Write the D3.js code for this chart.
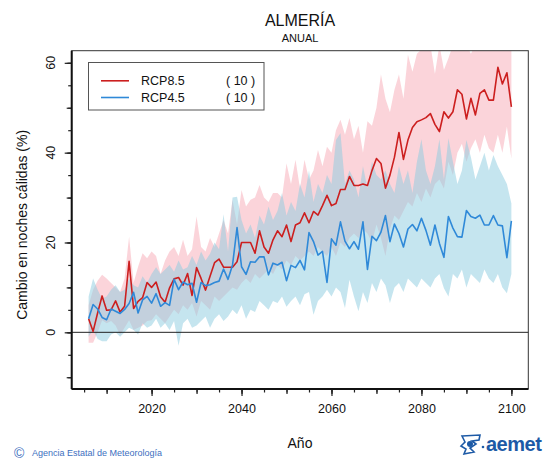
<!DOCTYPE html>
<html>
<head>
<meta charset="utf-8">
<script src="https://cdn.jsdelivr.net/npm/d3@7"></script>
<style>
  body { margin: 0; background: #fff; }
  svg { display: block; font-family: "Liberation Sans", Arial, sans-serif; }
</style>
</head>
<body>
<svg id="chart" width="550" height="462"></svg>
<script>
// years of the projection
const years = d3.range(2006, 2101);

// ensemble means
const rcp85 = [
  3.0, 0.2, 4.3, 8.1, 4.9, 5.0, 7.0, 4.5, 5.8, 15.8,
  5.3, 6.9, 7.7, 11.1, 10.0, 11.2, 7.9, 6.7, 9.9, 11.9,
  12.2, 10.5, 13.1, 8.2, 14.4, 12.0, 9.4, 12.5, 15.5, 16.3,
  14.5, 14.5, 14.5, 15.7, 20.0, 20.0, 20.0, 17.6, 22.6, 19.0,
  17.6, 20.6, 22.6, 21.3, 23.9, 20.2, 23.9, 24.4, 26.6, 24.4,
  26.9, 26.1, 28.2, 30.5, 28.2, 28.7, 31.8, 31.8, 34.7, 32.7,
  32.7, 33.0, 32.7, 36.0, 38.7, 37.6, 32.1, 35.0, 39.0, 44.5,
  38.5, 42.8, 45.6, 46.9, 47.3, 47.8, 48.7, 46.3, 44.7, 49.1,
  47.7, 49.1, 54.0, 53.0, 47.5, 52.1, 48.4, 53.2, 54.0, 51.7,
  51.7, 59.0, 55.3, 57.8, 50.2
];
const rcp45 = [
  3.0, 6.2, 5.2, 3.3, 2.8, 5.2, 4.7, 4.2, 5.1, 6.4,
  8.9, 4.3, 7.2, 8.0, 6.5, 8.6, 5.8, 6.6, 6.0, 11.8,
  9.5, 11.2, 10.6, 10.9, 6.7, 11.1, 10.4, 10.6, 11.1, 11.4,
  14.1, 11.8, 15.0, 23.3, 14.6, 12.9, 15.7, 15.6, 16.8, 16.8,
  12.8, 15.4, 15.0, 15.6, 11.5, 14.9, 14.4, 16.0, 13.9, 22.2,
  20.2, 17.2, 18.0, 11.1, 20.8, 19.4, 24.6, 20.3, 18.6, 20.2,
  18.5, 24.6, 14.0, 21.4, 20.4, 22.3, 26.0, 20.2, 24.1, 22.0,
  19.0, 23.0, 24.0, 22.6, 25.4, 22.7, 19.4, 23.9, 19.8, 16.7,
  25.8, 23.2, 21.3, 21.2, 27.1, 25.8, 25.4, 26.1, 23.9, 23.9,
  26.0, 23.9, 23.7, 16.6, 24.8
];

// spread of the ensemble (upper / lower)
const rcp85Hi = [
  6, 9.5, 11.5, 12.8, 12, 11, 10, 9, 12, 21.3,
  11, 14.6, 17.6, 16.5, 18, 17, 13, 16, 18, 19,
  17, 20.6, 17, 18.5, 25.8, 19, 18, 21, 19, 22,
  25, 22, 29.5, 24, 31.7, 28, 29.5, 30, 32.8, 30,
  29, 31, 31, 30, 37.6, 33, 38.4, 32, 38.4, 34,
  36, 40.6, 37, 41.3, 40, 45, 47.3, 44, 47.7, 43,
  46, 40, 47, 46, 50, 57.4, 52, 49, 54, 57.4,
  52, 61.8, 58, 62, 63, 64, 64, 57.5, 64, 58.4,
  61, 64, 64, 64, 64, 62, 64, 64, 64, 64,
  63, 64, 64, 64, 64
];
const rcp85Lo = [
  -2.3, -2.3, 0, 2.7, 2, 2.5, 1.5, -0.6, 1, 2.7,
  0.5, 1, 1.5, 2.5, 2.7, 4, 3, 2, 3.5, 5,
  4, 6, 5, 6.5, 3.5, 7, 6, 5, 8, 7,
  8, 9, 10, 9.5, 11, 12, 11, 13, 12, 13,
  14, 13, 15, 14, 16, 15, 17, 16, 17, 18,
  17, 19, 18, 17, 19, 17, 20, 19, 21, 22,
  21, 23, 22, 20, 24, 21, 17, 23, 26, 25,
  27, 29, 28, 31, 29, 32, 30, 33, 34, 32,
  38, 35, 40, 42, 38, 41, 43, 40, 44, 41,
  40, 44, 40, 45.8, 38.7
];
const rcp45Hi = [
  8, 12, 9.5, 7.5, 8, 9.5, 10.5, 9, 9.5, 12,
  10.5, 10, 12.5, 11, 13, 14.5, 13, 14, 15, 13.5,
  16, 14, 14.5, 17, 15, 18, 16, 17.5, 20, 18.5,
  26.3, 18, 30, 30.2, 25, 22, 24, 21, 26, 24,
  28, 25, 27, 31, 26, 29, 27, 33, 30, 36,
  29, 33, 31, 35, 33, 42.8, 44.3, 33, 36, 34,
  30, 37, 32, 38, 35, 34, 36, 33, 31, 37,
  33, 36, 31, 38, 43, 36, 33, 37, 43, 34,
  43.2, 38, 33, 36, 42.8, 39, 34, 37, 40, 36,
  39.5, 37, 35, 33, 28.7
];
const rcp45Lo = [
  -1, 0.5, -1.5, -2, -2, -0.5, 0, -1, 0, 1,
  0.5, -0.5, 2, 1, 1.5, 3, 1, 2, 0.5, 2.5,
  -3, 2, 3, 1, 1.5, 2.5, 3.5, 1, 3, 4,
  2.5, 3.5, 5, 4, 6, 3, 5, 4.5, 7, 6,
  5, 7, 6.5, 8, 5.7, 7, 8, 6, 8.5, 9,
  3.9, 7, 8, 9.5, 8, 10, 9, 5.4, 11.7, 8,
  4.7, 9, 6.5, 11, 9, 12, 10.5, 6.5, 10, 11,
  9, 12, 11, 10, 12, 11, 10, 12, 13, 9.8,
  8, 13, 12, 14, 10, 13, 12, 11, 14, 12,
  11, 13, 10, 8.7, 13
];

const seriesNames = ["RCP8.5", "RCP4.5"];
const seriesCounts = ["( 10 )", "( 10 )"];
const xTickLabels = [2020, 2040, 2060, 2080, 2100];
const yTickLabels = [0, 20, 40, 60];

const svg = d3.select("#chart");
const plot = { left: 71.7, right: 528.3, top: 50.7, bottom: 389 };

const x = d3.scaleLinear().domain([2002.24, 2103.76]).range([plot.left, plot.right]);
const y = d3.scaleLinear().domain([-12.62, 62.7]).range([plot.bottom, plot.top]);

svg.append("defs").append("clipPath").attr("id", "clip")
  .append("rect")
  .attr("x", plot.left).attr("y", plot.top)
  .attr("width", plot.right - plot.left).attr("height", plot.bottom - plot.top);

// title
svg.append("text").attr("x", 300).attr("y", 26).attr("text-anchor", "middle")
  .attr("font-size", 16).attr("fill", "#111").text("ALMERÍA");
svg.append("text").attr("x", 300).attr("y", 42).attr("text-anchor", "middle")
  .attr("font-size", 11).attr("fill", "#111").text("ANUAL");

// bands
const series = [
  { mean: rcp85, hi: rcp85Hi, lo: rcp85Lo, line: "#cc1f1f", band: "#f8a9b5" },
  { mean: rcp45, hi: rcp45Hi, lo: rcp45Lo, line: "#2f89d8", band: "#8ccbdf" }
];

const bands = svg.append("g").attr("clip-path", "url(#clip)");
series.forEach(s => {
  const area = d3.area()
    .x((d, i) => x(years[i]))
    .y0((d, i) => y(s.lo[i]))
    .y1((d, i) => y(s.hi[i]));
  bands.append("path")
    .attr("d", area(s.mean))
    .attr("fill", s.band)
    .attr("fill-opacity", 0.5);
});

// zero line
svg.append("line")
  .attr("x1", plot.left).attr("x2", plot.right)
  .attr("y1", y(0)).attr("y2", y(0))
  .attr("stroke", "#222").attr("stroke-width", 1);

// mean lines
const lines = svg.append("g").attr("clip-path", "url(#clip)");
series.forEach(s => {
  lines.append("path")
    .attr("d", d3.line().x((d, i) => x(years[i])).y(d => y(d))(s.mean))
    .attr("fill", "none")
    .attr("stroke", s.line)
    .attr("stroke-width", 1.6)
    .attr("stroke-linejoin", "round");
});

// plot frame
svg.append("rect")
  .attr("x", plot.left).attr("y", plot.top)
  .attr("width", plot.right - plot.left).attr("height", plot.bottom - plot.top)
  .attr("fill", "none").attr("stroke", "#333").attr("stroke-width", 1);

// x axis: three levels of ticks
function styleAxis(g) {
  g.select(".domain").remove();
  g.selectAll(".tick line").attr("stroke", "#222").attr("stroke-width", 1.2);
  g.selectAll(".tick text").attr("fill", "#111").attr("font-family", "Liberation Sans, Arial, sans-serif");
}
const xAxisG = svg.append("g").attr("transform", `translate(0,${plot.bottom})`);
xAxisG.append("g").call(d3.axisBottom(x).tickValues(d3.range(2005, 2101, 5)).tickSize(3.5).tickFormat("")).call(styleAxis);
xAxisG.append("g").call(d3.axisBottom(x).tickValues(d3.range(2010, 2101, 10)).tickSize(5).tickFormat("")).call(styleAxis);
xAxisG.append("g").call(d3.axisBottom(x).tickValues(xTickLabels).tickSize(7).tickPadding(8).tickFormat(d3.format("d")))
  .call(styleAxis)
  .selectAll(".tick text").attr("font-size", 12.5);
xAxisG.append("line").attr("x1", plot.left).attr("x2", plot.right)
  .attr("stroke", "#111").attr("stroke-width", 2);

// y axis
const yAxisG = svg.append("g").attr("transform", `translate(${plot.left},0)`);
yAxisG.append("g").call(d3.axisLeft(y).tickValues(d3.range(-10, 61, 5)).tickSize(3.5).tickFormat("")).call(styleAxis);
yAxisG.append("g").call(d3.axisLeft(y).tickValues(d3.range(-10, 61, 10)).tickSize(5).tickFormat("")).call(styleAxis);
yAxisG.append("g").call(d3.axisLeft(y).tickValues(yTickLabels).tickSize(7).tickFormat(""))
  .call(styleAxis);
yAxisG.selectAll(".ylab").data(yTickLabels).join("text")
  .attr("class", "ylab")
  .attr("transform", d => `translate(-17,${y(d)}) rotate(-90)`)
  .attr("text-anchor", "middle")
  .attr("font-size", 12.5).attr("fill", "#111")
  .text(d => d);
yAxisG.append("line").attr("y1", plot.top).attr("y2", plot.bottom)
  .attr("stroke", "#111").attr("stroke-width", 2);

// axis titles
svg.append("text").attr("x", 300).attr("y", 448).attr("text-anchor", "middle")
  .attr("font-size", 14).attr("fill", "#111").text("Año");
svg.append("text").attr("transform", `translate(27,${(plot.top + plot.bottom) / 2 + 5}) rotate(-90)`)
  .attr("text-anchor", "middle").attr("font-size", 14).attr("fill", "#111")
  .text("Cambio en noches cálidas (%)");

// legend
const legend = svg.append("g");
legend.append("rect").attr("x", 88.5).attr("y", 62.5).attr("width", 175.5).attr("height", 47.5)
  .attr("fill", "#fff").attr("stroke", "#555").attr("stroke-width", 1);
seriesNames.forEach((name, i) => {
  const ly = 80.8 + i * 16.7;
  legend.append("line").attr("x1", 101).attr("x2", 129).attr("y1", ly).attr("y2", ly)
    .attr("stroke", series[i].line).attr("stroke-width", 1.6);
  legend.append("text").attr("x", 141).attr("y", ly + 4.5)
    .attr("font-size", 12.5).attr("fill", "#111").text(name);
  legend.append("text").attr("x", 226).attr("y", ly + 4.5)
    .attr("font-size", 12.5).attr("fill", "#111").text(seriesCounts[i]);
});

// footer
svg.append("text").attr("x", 14).attr("y", 458)
  .attr("font-size", 14).attr("fill", "#3d6fc0").text("©");
svg.append("text").attr("x", 32).attr("y", 456)
  .attr("font-size", 9).attr("fill", "#3d6fc0").text("Agencia Estatal de Meteorología");

// aemet logo
const logo = svg.append("g").attr("transform", "translate(460,434)");
logo.append("path")
  .attr("d", "M2,2 L20,1 L19,6 L12,7 L16,10 L10,14 L14,18 L4,20 L6,15 L1,12 L5,8 Z")
  .attr("fill", "none").attr("stroke", "#1d5aa6").attr("stroke-width", 1.6);
logo.append("circle").attr("cx", 10).attr("cy", 10).attr("r", 3).attr("fill", "#1d5aa6");
logo.append("circle").attr("cx", 23).attr("cy", 13).attr("r", 1.3).attr("fill", "#1d5aa6");
svg.append("text").attr("x", 486).attr("y", 451)
  .attr("font-size", 20).attr("font-weight", "bold").attr("fill", "#1d5aa6")
  .attr("letter-spacing", -0.5).text("aemet");
</script>
</body>
</html>
